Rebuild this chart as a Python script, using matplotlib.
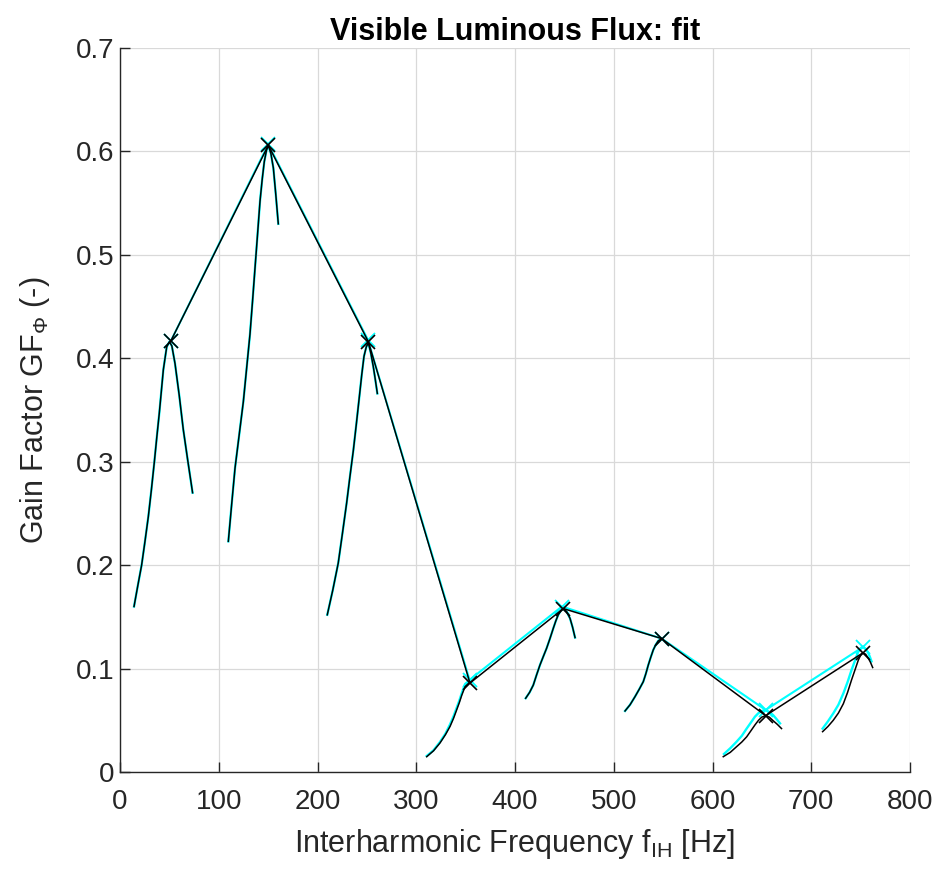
import numpy as np
import matplotlib.pyplot as plt

plt.rcParams['font.family'] = ['Liberation Sans', 'DejaVu Sans']
plt.rcParams['mathtext.fontset'] = 'custom'
plt.rcParams['mathtext.rm'] = 'Liberation Sans'
plt.rcParams['mathtext.it'] = 'Liberation Sans:italic'

# peak points (measured = cyan, fit = black)
f_meas = [51.6, 150.2, 251.0, 354.0, 447.5, 548.5, 653.8, 752.6]
gf_meas = [0.417, 0.607, 0.418, 0.089, 0.160, 0.129, 0.060, 0.121]
f_fit = [51.6, 150.2, 251.5, 354.4, 448.9, 548.5, 653.8, 752.0]
gf_fit = [0.417, 0.606, 0.416, 0.086, 0.158, 0.129, 0.0545, 0.115]

# local curves around each peak (fit)
c1_f = [14.2, 18.0, 21.9, 25.3, 28.7, 31.8, 34.8, 37.3, 39.8, 43.9, 47.3, 50.0, 52.5, 55.7, 60.0, 64.1, 68.8, 73.5]
c1_g = [0.160, 0.180, 0.200, 0.223, 0.247, 0.273, 0.300, 0.324, 0.347, 0.389, 0.411, 0.416, 0.412, 0.395, 0.364, 0.331, 0.300, 0.270]
c2_f = [109.7, 113.0, 116.5, 120.7, 124.9, 128.3, 131.6, 134.2, 136.7, 139.3, 141.8, 144.0, 146.1, 148.3, 150.2, 152.8, 155.3, 157.8, 160.3]
c2_g = [0.223, 0.258, 0.294, 0.326, 0.358, 0.391, 0.423, 0.455, 0.487, 0.520, 0.552, 0.573, 0.590, 0.601, 0.606, 0.598, 0.584, 0.558, 0.530]
c3_f = [209.9, 215.5, 221.0, 225.3, 229.5, 232.9, 236.3, 239.4, 242.4, 244.8, 247.1, 249.4, 251.5, 254.0, 256.5, 258.6, 260.6]
c3_g = [0.152, 0.176, 0.202, 0.231, 0.260, 0.286, 0.311, 0.337, 0.363, 0.384, 0.402, 0.411, 0.415, 0.405, 0.392, 0.379, 0.366]
c4_f = [310.6, 317.5, 324.0, 329.5, 334.2, 337.8, 340.9, 343.6, 346.0, 349.4, 354.4]
c4_g = [0.0148, 0.0205, 0.028, 0.036, 0.044, 0.052, 0.060, 0.067, 0.074, 0.0825, 0.087]
c5_f = [410.8, 414.8, 418.5, 421.9, 425.3, 428.6, 432.0, 435.4, 438.8, 441.3, 443.8, 446.4, 448.9, 452.3, 455.7, 458.3, 460.8]
c5_g = [0.0713, 0.077, 0.084, 0.094, 0.1035, 0.1115, 0.1196, 0.129, 0.139, 0.146, 0.152, 0.156, 0.158, 0.155, 0.1486, 0.140, 0.130]
c6_f = [511.4, 516.5, 521.5, 525.8, 529.9, 532.5, 535.0, 537.5, 540.0, 542.5, 545.0, 548.5]
c6_g = [0.059, 0.065, 0.0728, 0.080, 0.0873, 0.095, 0.1035, 0.111, 0.118, 0.123, 0.1267, 0.129]
c7_f = [610.9, 618.0, 624.4, 629.7, 634.6, 639.0, 643.0, 646.6, 649.8, 653.8, 657.6, 661.4, 665.7, 669.9]
c7_g = [0.0148, 0.019, 0.0245, 0.029, 0.034, 0.040, 0.0455, 0.050, 0.053, 0.0545, 0.053, 0.0496, 0.046, 0.042]
c8_f = [711.5, 716.9, 722.3, 727.5, 732.5, 736.8, 740.8, 744.4, 747.6, 750.0, 752.0, 755.0, 757.8, 760.0, 762.2]
c8_g = [0.039, 0.044, 0.050, 0.057, 0.066, 0.077, 0.089, 0.099, 0.108, 0.113, 0.115, 0.114, 0.110, 0.106, 0.101]

# measured curves that differ visibly from the fit
m4_g = [0.0155, 0.021, 0.029, 0.037, 0.046, 0.054, 0.062, 0.069, 0.076, 0.085, 0.089]
m7_f = [611.6, 618.0, 624.4, 629.7, 634.6, 639.0, 643.0, 646.6, 649.8, 653.8, 657.6, 661.4, 665.0, 668.4]
m7_g = [0.0174, 0.023, 0.0293, 0.035, 0.042, 0.048, 0.0535, 0.057, 0.059, 0.060, 0.058, 0.055, 0.051, 0.047]
m8_f = [711.5, 716.9, 722.3, 727.5, 732.5, 736.8, 740.8, 744.4, 747.6, 750.2, 752.6, 755.2, 757.8, 759.5, 761.0]
m8_g = [0.042, 0.049, 0.0567, 0.065, 0.076, 0.087, 0.0986, 0.108, 0.1164, 0.120, 0.121, 0.119, 0.115, 0.111, 0.107]

fit_curves = [(c1_f, c1_g), (c2_f, c2_g), (c3_f, c3_g), (c4_f, c4_g),
              (c5_f, c5_g), (c6_f, c6_g), (c7_f, c7_g), (c8_f, c8_g)]
meas_curves = [(c1_f, c1_g), (c2_f, c2_g), (c3_f, c3_g), (c4_f, m4_g),
               (c5_f, c5_g), (c6_f, c6_g), (m7_f, m7_g), (m8_f, m8_g)]

fig = plt.figure(figsize=(9.4, 8.72), dpi=100)
ax = fig.add_axes([120/940, 100/872, 790/940, 724/872])

for fx, gx in meas_curves:
    ax.plot(fx, gx, color='cyan', lw=1.7, zorder=3)
ax.plot(f_meas, gf_meas, color='cyan', lw=1.5, marker='x', ms=10, mew=1.3, zorder=3)

for fx, gx in fit_curves:
    ax.plot(fx, gx, color='black', lw=1.1, zorder=4)
ax.plot(f_fit, gf_fit, color='black', lw=1.1, marker='x', ms=10, mew=1.2, zorder=4)

ax.set_xlim(0, 800)
ax.set_ylim(0, 0.7)
ax.set_xticks(np.arange(0, 801, 100))
ax.set_yticks(np.arange(0, 0.71, 0.1))
ax.set_yticklabels(['0', '0.1', '0.2', '0.3', '0.4', '0.5', '0.6', '0.7'])
ax.grid(True, color='#d9d9d9', lw=0.9, zorder=0)
ax.set_axisbelow(True)
for s in ['top', 'right']:
    ax.spines[s].set_visible(False)
for s in ['bottom', 'left']:
    ax.spines[s].set_color('#262626')
    ax.spines[s].set_linewidth(1.0)
ax.tick_params(direction='in', length=7, width=1.0, colors='#262626', labelsize=20)
ax.tick_params(axis='x', pad=12)
ax.tick_params(axis='y', pad=4)

ax.set_title('Visible Luminous Flux: fit', fontsize=22, fontweight='bold', pad=6)
ax.set_xlabel('Interharmonic Frequency f$_{\\mathregular{IH}}$ [Hz]', fontsize=22,
              color='#262626', labelpad=9)
ax.set_ylabel('Gain Factor GF$_{\\Phi}$ (-)', fontsize=22, color='#262626', labelpad=17)

plt.savefig('out.png', dpi=100)
